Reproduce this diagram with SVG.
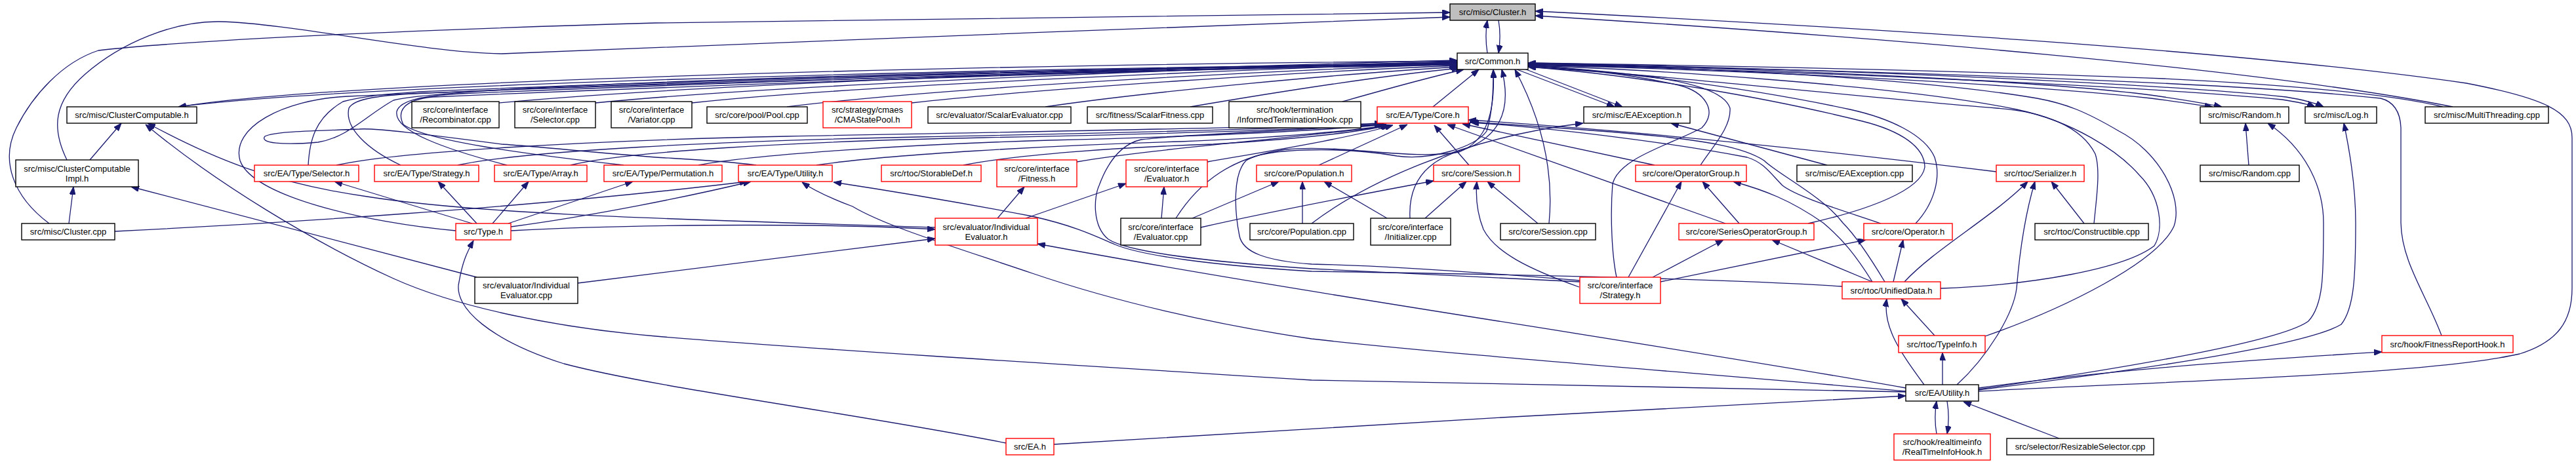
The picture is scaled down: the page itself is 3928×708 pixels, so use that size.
<svg xmlns="http://www.w3.org/2000/svg" width="3928" height="708" viewBox="0 0 3928 708">
<style>
rect{fill:#fff;stroke:#000;stroke-width:1.4}
.r rect{stroke:#ff0000}
.root rect{fill:#bfbfbf}
text{font-family:"Liberation Sans",Arial,sans-serif;font-size:13px;text-anchor:middle;fill:#000}
#edges path{fill:none;stroke:#191970;stroke-width:1.3;marker-end:url(#a)}
#edges path.p{marker-end:none}
</style>
<defs>
<marker id="a" markerUnits="userSpaceOnUse" markerWidth="12" markerHeight="9" refX="12" refY="4.5" orient="auto" viewBox="0 0 12 9">
<path d="M0,0 L12,4.5 L0,9 z" fill="#191970" stroke="#191970" stroke-width="1"/>
</marker>
</defs>
<rect x="0" y="0" width="3928" height="708" style="fill:#fff;stroke:none"/>
<g id="edges">
<path d="M2268 81 C2265 62,2265 48,2268 31"/>
<path d="M2285 31 C2288 48,2288 62,2285 81"/>
<path d="M75 341 C20 300,0 245,25 195 C50 145,95 95,150 77 C300 60,650 45,1000 35 C1500 27,1900 22,2211 19"/>
<path d="M102 244 C78 195,82 155,130 113 C185 65,265 32,335 33 C450 36,640 80,765 82 C1000 76,1800 38,2211 26"/>
<path d="M3740 163 C3450 105,2850 55,2341 24"/>
<path d="M3017 597 C3300 582,3700 572,3842 540 C3900 522,3922 490,3922 440 L3922 210 C3922 170,3880 150,3761 127 C3400 75,2800 40,2341 17"/>
<path d="M761 157 C1100 125,1900 100,2222 92"/>
<path d="M908 157 C1200 128,1900 102,2222 94"/>
<path d="M1055 157 C1300 130,1950 104,2222 96"/>
<path d="M1200 163 C1450 132,1980 106,2222 98"/>
<path d="M1390 157 C1600 134,2000 109,2222 100"/>
<path d="M1594 163 C1750 140,2050 112,2224 102"/>
<path d="M1815 163 C1950 140,2120 114,2226 104"/>
<path d="M2047 155 C2100 140,2170 120,2232 106"/>
<path d="M2185 163 L2255 106"/>
<path d="M274 163 C500 125,1400 100,2222 93"/>
<path d="M2222 97 C1400 106,520 130,272 163"/>
<path d="M695 352 C560 340,385 300,366 245 C352 195,430 152,530 147 C900 130,1800 105,2222 99"/>
<path d="M1153 252 C1100 245,1050 243,1000 240 C900 232,800 222,765 220 C650 205,570 195,548 197 C480 200,420 200,404 208 C395 218,430 222,485 217 C530 210,560 175,600 153 C700 130,1500 105,2222 98"/>
<path d="M470 252 C472 215,480 180,523 155 C560 145,600 143,640 140 C1100 120,1800 103,2222 95"/>
<path d="M513 252 C600 232,900 214,1200 208 C1600 200,1950 195,2108 188"/>
<path d="M611 252 C560 228,525 195,532 165 C540 150,580 145,650 142 C1100 122,1800 103,2222 96"/>
<path d="M698 252 C800 230,1100 215,1400 209 C1700 203,1980 196,2110 189"/>
<path d="M773 252 C680 228,600 200,605 170 C610 152,650 146,700 143 C1200 122,1800 104,2222 97"/>
<path d="M870 252 C950 232,1200 216,1500 210 C1800 204,2000 197,2112 190"/>
<path d="M951 252 C800 235,650 215,615 190 C605 170,615 152,660 148 C1200 125,1800 105,2222 98"/>
<path d="M1065 252 C1150 235,1400 220,1600 214 C1850 208,2030 198,2114 190"/>
<path d="M1245 252 C1350 236,1600 222,1800 216 C1950 210,2060 200,2116 191"/>
<path d="M1469 252 C1550 236,1700 225,1850 220 C1980 212,2070 202,2118 191"/>
<path d="M1642 247 C1750 228,1950 213,2120 192"/>
<path d="M1841 247 C1950 228,2060 210,2124 191"/>
<path d="M2011 252 L2146 190"/>
<path d="M2240 252 L2187 191"/>
<path d="M2631 341 L2207 190"/>
<path d="M2523 252 L2230 189"/>
<path d="M3044 262 C2800 232,2500 200,2239 183"/>
<path d="M2874 430 C2850 390,2830 360,2810 340 C2780 300,2710 265,2690 245 C2660 225,2600 214,2500 205 C2400 196,2300 190,2241 186"/>
<path d="M2868 341 C2800 318,2740 300,2718 283 C2700 265,2690 248,2664 240 C2560 220,2380 196,2243 187"/>
<path d="M2000 341 C2080 280,2230 210,2414 188"/>
<path d="M2313 106 L2462 163"/>
<path d="M2322 104 L2474 163"/>
<path d="M2786 252 L2548 188"/>
<path d="M2115 333 L2019 277"/>
<path d="M2173 333 L2236 277"/>
<path d="M2150 333 C2148 295,2160 250,2227 230 C2290 210,2305 165,2290 106"/>
<path d="M2345 341 L2268 277"/>
<path d="M2362 341 C2368 280,2360 200,2310 106"/>
<path d="M1831 347 C1950 320,2100 292,2186 276"/>
<path d="M1818 333 L1950 277"/>
<path d="M1771 333 L1775 285"/>
<path d="M1793 333 C1830 275,1880 240,1960 228 C2050 220,2150 245,2225 232 C2268 215,2280 170,2277 106"/>
<path d="M1986 341 L1986 277"/>
<path d="M1564 333 L1717 280"/>
<path d="M1521 333 L1562 285"/>
<path d="M881 432 L1426 364"/>
<path d="M727 423 L200 285"/>
<path d="M105 341 L112 285"/>
<path d="M137 244 L185 188"/>
<path d="M175 353 C400 342,800 318,1140 277"/>
<path d="M779 346 C900 330,1050 300,1145 277"/>
<path d="M779 352 C1000 340,1300 342,1426 350"/>
<path d="M1426 347 C1100 336,750 330,560 300 C420 280,330 245,225 188"/>
<path d="M2906 598 C2500 590,2200 585,2000 580 C1600 555,1200 530,1000 513 C850 500,700 470,600 425 C480 370,330 280,222 190"/>
<path d="M720 341 L510 277"/>
<path d="M727 341 L668 277"/>
<path d="M751 341 L806 277"/>
<path d="M775 341 L965 277"/>
<path d="M1534 676 C1300 630,1000 592,860 555 C750 520,690 470,700 430 C705 400,712 385,722 367"/>
<path d="M1607 678 C2000 652,2500 625,2906 604"/>
<path d="M2906 592 C2500 520,2000 450,1582 372"/>
<path d="M2906 597 C2600 570,2200 540,2000 517 C1850 495,1700 460,1574 417 C1450 375,1350 345,1300 315 C1260 300,1240 290,1223 278"/>
<path d="M2809 437 C2600 424,2250 418,2000 414 C1850 405,1740 390,1700 373 C1670 360,1640 345,1574 330 C1480 312,1350 290,1271 278"/>
<path d="M2409 430 C2250 422,2100 415,2000 410 C1850 400,1720 385,1690 365 C1665 345,1668 300,1676 283 C1690 245,1710 220,1740 213 C1800 205,2000 198,2108 190"/>
<path d="M2409 428 C2250 415,2100 405,2000 403 C1930 398,1895 385,1890 360 C1882 320,1880 265,1900 245 C1930 225,2050 224,2130 238 C2180 245,2250 225,2267 200 C2276 170,2277 140,2277 107"/>
<path d="M2465 423 C2458 390,2455 330,2459 280 C2470 240,2550 220,2595 195 C2620 170,2600 140,2560 130 C2480 112,2400 104,2330 101"/>
<path d="M2483 423 L2564 277"/>
<path d="M2520 423 L2628 366"/>
<path d="M2532 430 L2845 366"/>
<path d="M2408 438 C2330 410,2280 385,2262 350 C2252 325,2250 300,2252 277"/>
<path d="M2593 252 C2610 225,2640 195,2638 165 C2630 140,2580 125,2500 115 C2440 108,2380 103,2330 100"/>
<path d="M2652 341 L2596 277"/>
<path d="M2757 341 C2850 320,2930 290,2935 255 C2935 225,2900 200,2840 185 C2700 150,2500 115,2330 102"/>
<path d="M2855 430 C2830 390,2810 365,2780 340 C2730 305,2690 290,2643 277"/>
<path d="M2855 430 L2702 366"/>
<path d="M2887 430 L2902 366"/>
<path d="M2921 341 C2950 310,2960 270,2950 240 C2935 205,2880 180,2821 167 C2650 130,2450 108,2330 100"/>
<path d="M2904 430 C2950 380,3040 330,3092 277"/>
<path d="M2959 440 C3100 435,3240 410,3285 375 C3300 350,3295 300,3262 267 C3230 230,3160 185,3075 167 C2900 130,2500 105,2330 100"/>
<path d="M3027 513 C3150 470,3290 400,3315 345 C3330 300,3290 230,3231 200 C3180 170,3150 158,3106 150 C2900 115,2500 100,2330 97"/>
<path d="M2950 512 L2899 456"/>
<path d="M2934 587 C2900 540,2870 500,2877 456"/>
<path d="M2962 587 L2962 538"/>
<path d="M2984 587 C3030 545,3070 480,3075 440 C3080 380,3090 320,3103 277"/>
<path d="M3178 341 L3128 277"/>
<path d="M3193 341 C3197 300,3203 260,3195 235 C3175 195,3120 170,3044 165 C2850 150,2550 115,2330 102"/>
<path d="M3723 512 C3700 450,3662 400,3661 340 L3661 195 C3660 170,3650 155,3630 150 C3400 125,2800 105,2330 99"/>
<path d="M3017 592 C3250 560,3500 545,3632 537"/>
<path d="M3017 594 C3250 560,3480 520,3520 490 C3543 465,3543 420,3543 340 C3543 290,3520 230,3458 188"/>
<path d="M3017 595 C3300 560,3520 525,3570 495 C3590 470,3592 420,3592 340 C3592 290,3585 240,3574 188"/>
<path d="M3429 252 L3424 188"/>
<path d="M2330 97 C2700 104,3150 125,3300 148 C3340 154,3365 158,3388 163"/>
<path d="M2330 99 C2700 108,3100 130,3280 150 C3320 155,3350 160,3374 163"/>
<path d="M2330 96 C2800 105,3300 128,3486 148 C3510 152,3530 157,3543 163"/>
<path d="M2330 98 C2800 110,3300 134,3480 152 C3505 156,3520 159,3530 163"/>
<path d="M3725 163 C3650 145,3500 130,3300 120 C3000 108,2600 100,2330 96"/>
<path d="M2953 662 C2950 645,2950 630,2953 612"/>
<path d="M2969 612 C2972 630,2972 645,2969 662"/>
<path d="M3140 669 L2994 613"/>
</g>
<g id="n_cluster_h" class="root"><rect x="2211" y="6" width="130" height="25"/><text x="2276" y="23">src/misc/Cluster.h</text></g>
<g id="n_common_h"><rect x="2222" y="81" width="108" height="25"/><text x="2276" y="98">src/Common.h</text></g>
<g id="n_clustercomputable_h"><rect x="102" y="163" width="198" height="25"/><text x="201" y="180">src/misc/ClusterComputable.h</text></g>
<g id="n_recombinator_cpp"><rect x="628" y="155" width="133" height="40"/><text x="694.5" y="172">src/core/interface</text><text x="694.5" y="187">/Recombinator.cpp</text></g>
<g id="n_selector_cpp"><rect x="785" y="155" width="123" height="40"/><text x="846.5" y="172">src/core/interface</text><text x="846.5" y="187">/Selector.cpp</text></g>
<g id="n_variator_cpp"><rect x="932" y="155" width="123" height="40"/><text x="993.5" y="172">src/core/interface</text><text x="993.5" y="187">/Variator.cpp</text></g>
<g id="n_pool_cpp"><rect x="1078" y="163" width="153" height="25"/><text x="1154.5" y="180">src/core/pool/Pool.cpp</text></g>
<g id="n_cmastatepool_h" class="r"><rect x="1255" y="155" width="135" height="40"/><text x="1322.5" y="172">src/strategy/cmaes</text><text x="1322.5" y="187">/CMAStatePool.h</text></g>
<g id="n_scalarevaluator_cpp"><rect x="1415" y="163" width="218" height="25"/><text x="1524" y="180">src/evaluator/ScalarEvaluator.cpp</text></g>
<g id="n_scalarfitness_cpp"><rect x="1658" y="163" width="191" height="25"/><text x="1753.5" y="180">src/fitness/ScalarFitness.cpp</text></g>
<g id="n_informedterminationhook_cpp"><rect x="1874" y="155" width="201" height="40"/><text x="1974.5" y="172">src/hook/termination</text><text x="1974.5" y="187">/InformedTerminationHook.cpp</text></g>
<g id="n_core_h" class="r"><rect x="2100" y="163" width="139" height="25"/><text x="2169.5" y="180">src/EA/Type/Core.h</text></g>
<g id="n_eaexception_h"><rect x="2415" y="163" width="162" height="25"/><text x="2496" y="180">src/misc/EAException.h</text></g>
<g id="n_random_h"><rect x="3355" y="163" width="135" height="25"/><text x="3422.5" y="180">src/misc/Random.h</text></g>
<g id="n_log_h"><rect x="3515" y="163" width="109" height="25"/><text x="3569.5" y="180">src/misc/Log.h</text></g>
<g id="n_multithreading_cpp"><rect x="3698" y="163" width="188" height="25"/><text x="3792" y="180">src/misc/MultiThreading.cpp</text></g>
<g id="n_clustercomputableimpl_h"><rect x="24" y="244" width="187" height="41"/><text x="117.5" y="262">src/misc/ClusterComputable</text><text x="117.5" y="277">Impl.h</text></g>
<g id="n_type_selector_h" class="r"><rect x="388" y="252" width="159" height="25"/><text x="467.5" y="269">src/EA/Type/Selector.h</text></g>
<g id="n_type_strategy_h" class="r"><rect x="571" y="252" width="159" height="25"/><text x="650.5" y="269">src/EA/Type/Strategy.h</text></g>
<g id="n_type_array_h" class="r"><rect x="754" y="252" width="141" height="25"/><text x="824.5" y="269">src/EA/Type/Array.h</text></g>
<g id="n_type_permutation_h" class="r"><rect x="921" y="252" width="180" height="25"/><text x="1011" y="269">src/EA/Type/Permutation.h</text></g>
<g id="n_type_utility_h" class="r"><rect x="1126" y="252" width="143" height="25"/><text x="1197.5" y="269">src/EA/Type/Utility.h</text></g>
<g id="n_storabledef_h" class="r"><rect x="1344" y="252" width="152" height="25"/><text x="1420" y="269">src/rtoc/StorableDef.h</text></g>
<g id="n_fitness_h" class="r"><rect x="1520" y="244" width="122" height="41"/><text x="1581" y="262">src/core/interface</text><text x="1581" y="277">/Fitness.h</text></g>
<g id="n_evaluator_h" class="r"><rect x="1717" y="244" width="124" height="41"/><text x="1779" y="262">src/core/interface</text><text x="1779" y="277">/Evaluator.h</text></g>
<g id="n_population_h" class="r"><rect x="1916" y="252" width="145" height="25"/><text x="1988.5" y="269">src/core/Population.h</text></g>
<g id="n_session_h" class="r"><rect x="2186" y="252" width="131" height="25"/><text x="2251.5" y="269">src/core/Session.h</text></g>
<g id="n_operatorgroup_h" class="r"><rect x="2494" y="252" width="169" height="25"/><text x="2578.5" y="269">src/core/OperatorGroup.h</text></g>
<g id="n_eaexception_cpp"><rect x="2740" y="252" width="176" height="25"/><text x="2828" y="269">src/misc/EAException.cpp</text></g>
<g id="n_serializer_h" class="r"><rect x="3044" y="252" width="134" height="25"/><text x="3111" y="269">src/rtoc/Serializer.h</text></g>
<g id="n_random_cpp"><rect x="3355" y="252" width="151" height="25"/><text x="3430.5" y="269">src/misc/Random.cpp</text></g>
<g id="n_cluster_cpp"><rect x="33" y="341" width="142" height="25"/><text x="104" y="358">src/misc/Cluster.cpp</text></g>
<g id="n_type_h" class="r"><rect x="695" y="341" width="84" height="25"/><text x="737" y="358">src/Type.h</text></g>
<g id="n_individualevaluator_h" class="r"><rect x="1426" y="333" width="156" height="41"/><text x="1504" y="351">src/evaluator/Individual</text><text x="1504" y="366">Evaluator.h</text></g>
<g id="n_evaluator_cpp"><rect x="1709" y="333" width="122" height="41"/><text x="1770" y="351">src/core/interface</text><text x="1770" y="366">/Evaluator.cpp</text></g>
<g id="n_population_cpp"><rect x="1906" y="341" width="158" height="25"/><text x="1985" y="358">src/core/Population.cpp</text></g>
<g id="n_initializer_cpp"><rect x="2090" y="333" width="122" height="41"/><text x="2151" y="351">src/core/interface</text><text x="2151" y="366">/Initializer.cpp</text></g>
<g id="n_session_cpp"><rect x="2288" y="341" width="145" height="25"/><text x="2360.5" y="358">src/core/Session.cpp</text></g>
<g id="n_seriesoperatorgroup_h" class="r"><rect x="2560" y="341" width="206" height="25"/><text x="2663" y="358">src/core/SeriesOperatorGroup.h</text></g>
<g id="n_operator_h" class="r"><rect x="2842" y="341" width="135" height="25"/><text x="2909.5" y="358">src/core/Operator.h</text></g>
<g id="n_constructible_cpp"><rect x="3103" y="341" width="173" height="25"/><text x="3189.5" y="358">src/rtoc/Constructible.cpp</text></g>
<g id="n_individualevaluator_cpp"><rect x="724" y="423" width="157" height="40"/><text x="802.5" y="440">src/evaluator/Individual</text><text x="802.5" y="455">Evaluator.cpp</text></g>
<g id="n_strategy_h" class="r"><rect x="2409" y="423" width="123" height="40"/><text x="2470.5" y="440">src/core/interface</text><text x="2470.5" y="455">/Strategy.h</text></g>
<g id="n_unifieddata_h" class="r"><rect x="2809" y="430" width="150" height="26"/><text x="2884" y="448">src/rtoc/UnifiedData.h</text></g>
<g id="n_typeinfo_h" class="r"><rect x="2895" y="512" width="132" height="26"/><text x="2961" y="530">src/rtoc/TypeInfo.h</text></g>
<g id="n_fitnessreporthook_h" class="r"><rect x="3632" y="512" width="200" height="26"/><text x="3732" y="530">src/hook/FitnessReportHook.h</text></g>
<g id="n_ea_utility_h"><rect x="2906" y="587" width="111" height="25"/><text x="2961.5" y="604">src/EA/Utility.h</text></g>
<g id="n_ea_h" class="r"><rect x="1534" y="669" width="73" height="25"/><text x="1570.5" y="686">src/EA.h</text></g>
<g id="n_realtimeinfohook_h" class="r"><rect x="2888" y="662" width="147" height="40"/><text x="2961.5" y="679">src/hook/realtimeinfo</text><text x="2961.5" y="694">/RealTimeInfoHook.h</text></g>
<g id="n_resizableselector_cpp"><rect x="3060" y="669" width="224" height="25"/><text x="3172" y="686">src/selector/ResizableSelector.cpp</text></g>
</svg>
